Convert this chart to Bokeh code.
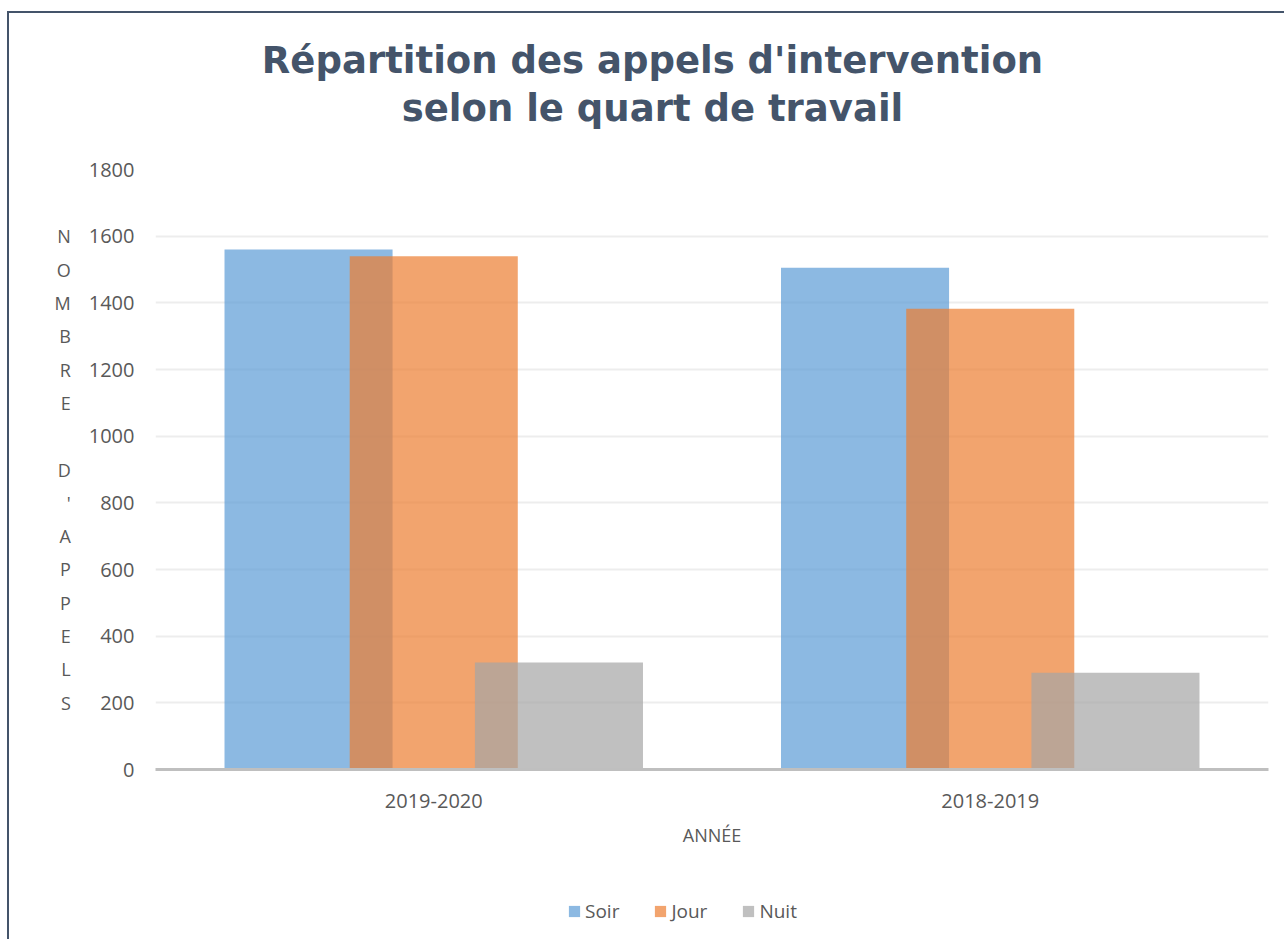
from bokeh.plotting import figure
from bokeh.layouts import column
from bokeh.models import (ColumnDataSource, FactorRange, Range1d, Legend, LegendItem,
                          FixedTicker)
from bokeh.core.properties import value
from bokeh.transform import dodge
from bokeh.embed import file_html
from bokeh.resources import INLINE

# ---- data ----
years = ["2019-2020", "2018-2019"]
soir = [1560, 1505]
jour = [1540, 1382]
nuit = [321, 290]
series_names = ["Soir", "Jour", "Nuit"]
y_ticks = [0, 200, 400, 600, 800, 1000, 1200, 1400, 1600, 1800]
title_lines = ["Répartition des appels d'intervention", "selon le quart de travail"]
y_title = "NOMBRE D'APPELS"
x_title = "ANNÉE"

colors = ["#5B9BD5", "#ED7D31", "#A5A5A5"]
TXT = "#595959"
TITLE_COL = "#44546A"
FONT = "Open Sans"
W = 1275
BL, BR = 146, 16          # left / right borders shared by all three strips
FX0, FX1 = BL, W - BR     # frame extent in canvas pixels

# ---- title strip ----
TH = 140
pt = figure(width=W, height=TH, x_range=Range1d(FX0, FX1), y_range=Range1d(TH, 0),
            output_backend="svg", toolbar_location=None,
            x_axis_location=None, y_axis_location=None,
            min_border_left=BL, min_border_right=BR, min_border_top=0, min_border_bottom=0)
pt.grid.visible = False
pt.outline_line_color = None
pt.text(x=[643, 643], y=[47, 95], text=title_lines, text_align="center",
        text_baseline="alphabetic", text_font=value("DejaVu Sans"),
        text_font_style="bold", text_font_size="37px", text_color=TITLE_COL)

# ---- main chart ----
src = ColumnDataSource(dict(year=years, Soir=soir, Jour=jour, Nuit=nuit))
p = figure(width=W, height=730, x_range=FactorRange(*years),
           y_range=Range1d(0, 1800), output_backend="svg", toolbar_location=None,
           min_border_left=BL, min_border_right=BR, min_border_top=16,
           min_border_bottom=114)
p.outline_line_color = None

offsets = [-0.225, 0.0, 0.225]
for name, off, col in zip(series_names, offsets, colors):
    p.vbar(x=dodge("year", off, range=p.x_range), top=name, width=0.302,
           source=src, fill_color=col, fill_alpha=0.7, line_color=None)

# y axis
p.yaxis.ticker = FixedTicker(ticks=y_ticks)
p.yaxis.axis_line_color = None
p.yaxis.major_tick_line_color = None
p.yaxis.minor_tick_line_color = None
p.yaxis.major_label_text_font = FONT
p.yaxis.major_label_text_font_size = "20px"
p.yaxis.major_label_text_color = TXT
p.yaxis.major_label_standoff = 15
p.yaxis.axis_label = "\n".join(c if c != " " else "" for c in y_title)
p.yaxis.axis_label_orientation = "horizontal"
p.yaxis.axis_label_text_font = FONT
p.yaxis.axis_label_text_font_size = "18px"
p.yaxis.axis_label_text_font_style = "normal"
p.yaxis.axis_label_text_color = TXT
p.yaxis.axis_label_text_line_height = 1.387
p.yaxis.axis_label_standoff = 15

# x axis
p.xaxis.axis_line_color = "#BFBFBF"
p.xaxis.axis_line_width = 3
p.xaxis.major_tick_line_color = None
p.xaxis.minor_tick_line_color = None
p.xaxis.major_label_text_font = FONT
p.xaxis.major_label_text_font_size = "20px"
p.xaxis.major_label_text_color = TXT
p.xaxis.major_label_standoff = 18
p.xaxis.axis_label = x_title
p.xaxis.axis_label_text_font = FONT
p.xaxis.axis_label_text_font_size = "18px"
p.xaxis.axis_label_text_font_style = "normal"
p.xaxis.axis_label_text_color = TXT
p.xaxis.axis_label_standoff = 12

p.xgrid.grid_line_color = None
p.ygrid.grid_line_color = "#EDEDED"
p.ygrid.grid_line_width = 2
p.ygrid.ticker = FixedTicker(ticks=y_ticks)

# ---- legend strip ----
pl = figure(width=W, height=56, x_range=Range1d(0, 1), y_range=Range1d(0, 1),
            output_backend="svg", toolbar_location=None,
            x_axis_location=None, y_axis_location=None,
            min_border_left=BL, min_border_right=BR, min_border_top=0, min_border_bottom=0)
pl.grid.visible = False
pl.outline_line_color = None
items = []
for name, col in zip(series_names, colors):
    # zero-height, off-range proxy bar: only gives the legend its swatch
    r = pl.vbar(x=[-5], top=[0], width=0.1, fill_color=col, fill_alpha=0.7, line_color=None)
    items.append(LegendItem(label=name, renderers=[r]))
legend = Legend(items=items, orientation="horizontal", location=(412, 15),
                label_text_font=FONT, label_text_font_size="19px", label_text_color=TXT,
                glyph_width=14, glyph_height=14, label_standoff=4, spacing=34,
                border_line_color=None, background_fill_alpha=0, margin=0, padding=0)
pl.add_layout(legend, "center")

lay = column(pt, p, pl, spacing=0,
             styles={"border-left": "2px solid #44546A", "border-top": "2px solid #44546A",
                     "margin-top": "11px", "margin-left": "7px"})

open("out.html", "w").write(file_html(lay, INLINE))
